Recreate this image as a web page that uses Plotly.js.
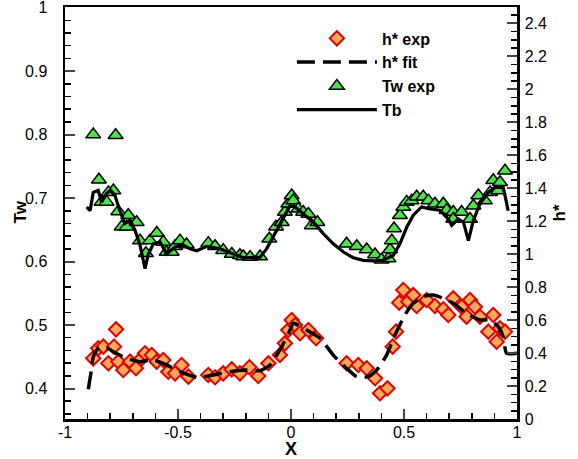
<!DOCTYPE html>
<html>
<head>
<meta charset="utf-8">
<script src="https://cdn.plot.ly/plotly-3.0.1.min.js"></script>
<style>html,body{margin:0;padding:0;background:#fff;}#chart{width:578px;height:459px;}</style>
</head>
<body>
<div id="chart"></div>
<script>
// Tw experimental (left axis)
var twExpX = [-0.875,-0.776,-0.850,-0.786,-0.808,-0.838,-0.816,-0.764,-0.720,-0.749,-0.727,-0.683,-0.668,-0.642,-0.624,-0.594,-0.565,-0.550,-0.528,-0.513,-0.491,-0.462,-0.366,-0.336,-0.300,-0.262,-0.226,-0.211,-0.181,-0.137,-0.096,-0.066,-0.041,-0.027,-0.012,0.003,0.010,0.032,0.054,0.077,0.092,0.117,0.246,0.291,0.335,0.372,0.401,0.431,0.438,0.446,0.456,0.482,0.497,0.512,0.534,0.556,0.585,0.608,0.637,0.674,0.689,0.718,0.718,0.755,0.792,0.807,0.829,0.858,0.881,0.895,0.917,0.925,0.947];
var twExpY = [0.800,0.799,0.729,0.712,0.709,0.694,0.694,0.679,0.673,0.655,0.655,0.662,0.633,0.613,0.633,0.645,0.631,0.615,0.615,0.624,0.633,0.627,0.629,0.624,0.618,0.612,0.610,0.608,0.607,0.608,0.636,0.655,0.662,0.678,0.691,0.704,0.696,0.683,0.678,0.675,0.657,0.662,0.628,0.624,0.619,0.611,0.603,0.605,0.619,0.633,0.652,0.673,0.686,0.694,0.696,0.702,0.702,0.696,0.691,0.691,0.681,0.678,0.667,0.678,0.667,0.688,0.704,0.696,0.709,0.728,0.712,0.725,0.743];

// Tb (left axis)
var tbX = [-0.904,-0.889,-0.875,-0.853,-0.838,-0.816,-0.800,-0.779,-0.757,-0.735,-0.712,-0.690,-0.668,-0.646,-0.631,-0.609,-0.580,-0.550,-0.513,-0.477,-0.447,-0.417,-0.373,-0.314,-0.255,-0.211,-0.196,-0.152,-0.137,-0.108,-0.078,-0.063,-0.027,-0.004,0.018,0.054,0.099,0.143,0.187,0.232,0.276,0.320,0.364,0.408,0.453,0.482,0.512,0.541,0.578,0.615,0.659,0.696,0.711,0.740,0.763,0.785,0.807,0.836,0.873,0.903,0.939,0.947,0.961];
var tbY = [0.686,0.680,0.709,0.712,0.694,0.707,0.712,0.704,0.680,0.660,0.665,0.649,0.626,0.589,0.612,0.628,0.631,0.612,0.623,0.626,0.620,0.617,0.624,0.620,0.612,0.606,0.606,0.606,0.607,0.620,0.640,0.649,0.673,0.688,0.686,0.675,0.662,0.644,0.628,0.615,0.606,0.602,0.601,0.602,0.610,0.628,0.654,0.673,0.686,0.683,0.681,0.667,0.657,0.667,0.662,0.633,0.665,0.691,0.709,0.717,0.717,0.704,0.680];

// h* experimental (right axis)
var hExpX = [-0.875,-0.853,-0.830,-0.774,-0.783,-0.808,-0.764,-0.742,-0.712,-0.686,-0.661,-0.646,-0.616,-0.594,-0.565,-0.543,-0.513,-0.484,-0.454,-0.366,-0.336,-0.300,-0.262,-0.226,-0.184,-0.145,-0.100,-0.049,-0.027,-0.012,0.003,0.018,0.040,0.077,0.111,0.246,0.298,0.335,0.372,0.394,0.427,0.450,0.465,0.479,0.497,0.519,0.541,0.556,0.600,0.637,0.674,0.696,0.718,0.755,0.777,0.792,0.814,0.836,0.873,0.895,0.910,0.925,0.947];
var hExpY = [0.368,0.429,0.439,0.544,0.439,0.338,0.348,0.297,0.348,0.308,0.368,0.399,0.388,0.348,0.358,0.287,0.277,0.328,0.257,0.267,0.253,0.277,0.301,0.277,0.314,0.261,0.338,0.388,0.459,0.540,0.601,0.570,0.520,0.540,0.490,0.338,0.328,0.308,0.247,0.156,0.186,0.439,0.530,0.706,0.783,0.712,0.752,0.686,0.722,0.686,0.666,0.631,0.732,0.681,0.621,0.722,0.681,0.621,0.530,0.631,0.469,0.550,0.530];

// h* fit (right axis)
var hFitX = [-0.897,-0.882,-0.875,-0.853,-0.823,-0.786,-0.727,-0.668,-0.609,-0.550,-0.491,-0.417,-0.344,-0.270,-0.196,-0.137,-0.093,-0.041,-0.004,0.010,0.069,0.128,0.187,0.246,0.291,0.342,0.379,0.423,0.460,0.504,0.541,0.585,0.630,0.674,0.718,0.777,0.836,0.880,0.917,0.939,0.954,1.000];
var hFitY = [0.180,0.308,0.378,0.429,0.439,0.408,0.368,0.348,0.358,0.328,0.287,0.253,0.267,0.287,0.297,0.293,0.328,0.439,0.540,0.581,0.540,0.490,0.388,0.308,0.257,0.257,0.297,0.388,0.510,0.631,0.702,0.742,0.752,0.732,0.702,0.641,0.601,0.601,0.560,0.499,0.399,0.399];

// x tick labels (hyphen minus as in the reference)
var xTickVals = [-1, -0.5, 0, 0.5, 1];
var xTickText = ['-1', '-0.5', '0', '0.5', '1'];

var FONT = 'Liberation Sans, Arial, sans-serif';

var traces = [
  {x: twExpX, y: twExpY, name: 'Tw exp', type: 'scatter', mode: 'markers', yaxis: 'y', legendrank: 3,
   marker: {symbol: 'triangle-up', size: 13, color: '#4be24b', line: {color: '#000', width: 1.5}}},
  {x: tbX, y: tbY, name: 'Tb', type: 'scatter', mode: 'lines', yaxis: 'y', legendrank: 4,
   line: {color: '#000', width: 3.2}},
  {x: hExpX, y: hExpY, name: 'h* exp', type: 'scatter', mode: 'markers', yaxis: 'y2', legendrank: 1,
   marker: {symbol: 'diamond', size: 11, color: '#ffaa5a', line: {color: '#e00000', width: 2}}},
  {x: hFitX, y: hFitY, name: 'h* fit', type: 'scatter', mode: 'lines', yaxis: 'y2', legendrank: 2,
   line: {color: '#000', width: 3.5, dash: '18px,8px', shape: 'spline', smoothing: 0.6}}
];

var layout = {
  width: 578, height: 459,
  margin: {l: 65, r: 61, t: 7, b: 40},
  paper_bgcolor: '#fff', plot_bgcolor: '#fff',
  font: {family: FONT, size: 16, color: '#000'},
  showlegend: true,
  legend: {x: 0.502, y: 0.965, xanchor: 'left', yanchor: 'top', bgcolor: 'rgba(0,0,0,0)',
           itemwidth: 80, font: {family: FONT, size: 16, weight: 'bold', color: '#000'}},
  xaxis: {range: [-1, 1], tickmode: 'array', tickvals: xTickVals, ticktext: xTickText,
          ticks: 'inside', ticklen: 10, tickwidth: 2,
          showline: true, linewidth: 2.5, linecolor: '#000', mirror: true, showgrid: false, zeroline: false,
          minor: {dtick: 0.1, ticks: 'inside', ticklen: 6, tickwidth: 1.5, tickcolor: '#000', showgrid: false},
          tickfont: {size: 16}, ticklabelstandoff: -3, ticklabeloverflow: 'allow',
          title: {text: 'X', font: {size: 18, weight: 'bold'}, standoff: 0}},
  yaxis: {range: [0.352, 1.001], tick0: 0, dtick: 0.1, ticks: 'inside', ticklen: 10, tickwidth: 2,
          showline: true, linewidth: 2.5, linecolor: '#000', showgrid: false, zeroline: false,
          minor: {dtick: 0.02, ticks: 'inside', ticklen: 6, tickwidth: 1.5, tickcolor: '#000', showgrid: false},
          tickfont: {size: 16}, ticklabelstandoff: 12, ticklabeloverflow: 'allow'},
  yaxis2: {overlaying: 'y', side: 'right', range: [0, 2.5], tick0: 0, dtick: 0.2, ticks: 'inside', ticklen: 10, tickwidth: 2,
           showline: true, linewidth: 2.5, linecolor: '#000', showgrid: false, zeroline: false,
           minor: {dtick: 0.05, ticks: 'inside', ticklen: 6, tickwidth: 1.5, tickcolor: '#000', showgrid: false},
           tickfont: {size: 16}, ticklabelstandoff: 2, ticklabeloverflow: 'allow',
           title: {text: 'h*', font: {size: 17, weight: 'bold'}, standoff: 7}},
  annotations: [
    {text: 'Tw', xref: 'paper', yref: 'paper', x: -0.099, y: 0.502, xanchor: 'center', yanchor: 'middle',
     textangle: -90, showarrow: false, font: {family: FONT, size: 17, weight: 'bold', color: '#000'}}
  ]
};

Plotly.newPlot('chart', traces, layout, {displayModeBar: false, staticPlot: true});
</script>
</body>
</html>
